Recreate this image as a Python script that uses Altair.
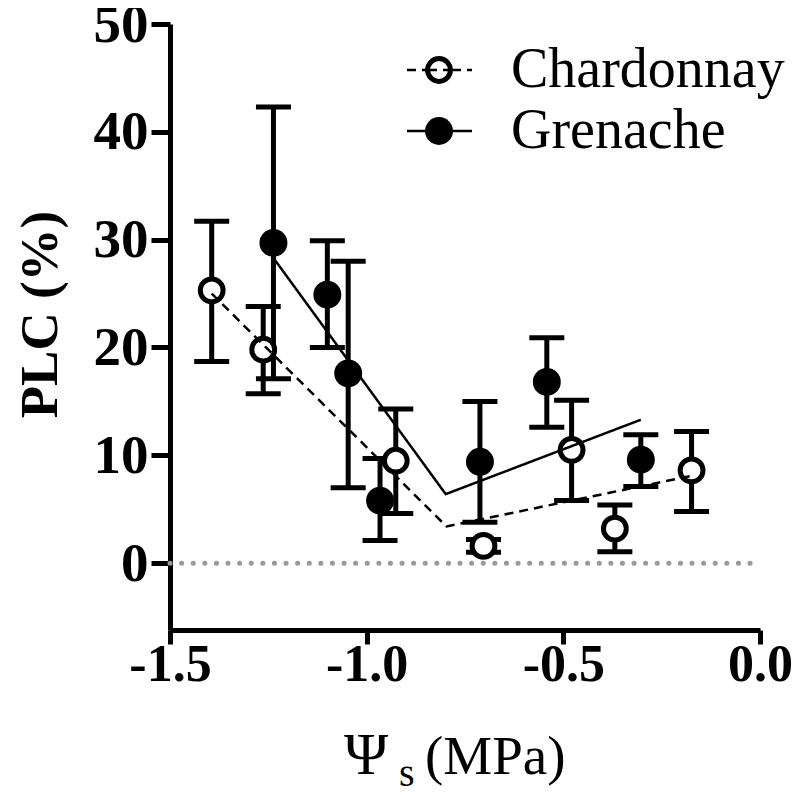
import altair as alt
import pandas as pd

# ---- data ----
char_x = [-1.394, -1.263, -0.926, -0.703, -0.479, -0.369, -0.174]
char_y = [25.3, 19.8, 9.5, 1.6, 10.5, 3.2, 8.6]
char_lo = [18.7, 15.7, 4.6, 1.0, 5.8, 1.05, 4.8]
char_hi = [31.7, 23.8, 14.3, 2.2, 15.1, 5.4, 12.2]

gren_x = [-1.237, -1.100, -1.047, -0.966, -0.712, -0.542, -0.303]
gren_y = [29.7, 24.9, 17.6, 5.8, 9.4, 16.8, 9.6]
gren_lo = [17.1, 20.0, 7.0, 2.1, 3.8, 12.6, 7.1]
gren_hi = [42.3, 29.9, 28.0, 9.7, 15.0, 20.9, 11.9]

char_fit_x = [-1.394, -0.797, -0.174]
char_fit_y = [25.0, 3.4, 8.1]
gren_fit_x = [-1.237, -0.799, -0.303]
gren_fit_y = [28.3, 6.4, 13.3]

x_ticks = [-1.5, -1.0, -0.5, 0.0]
y_ticks = [0, 10, 20, 30, 40, 50]

FONT = "Liberation Serif"

pts = pd.DataFrame({
    "series": ["Chardonnay"] * len(char_x) + ["Grenache"] * len(gren_x),
    "x": char_x + gren_x,
    "y": char_y + gren_y,
    "lo": char_lo + gren_lo,
    "hi": char_hi + gren_hi,
})
fits = pd.DataFrame({
    "series": ["Chardonnay"] * len(char_fit_x) + ["Grenache"] * len(gren_fit_x),
    "x": char_fit_x + gren_fit_x,
    "y": char_fit_y + gren_fit_y,
})
zero = pd.DataFrame({"x": [-1.5], "x2": [0.0], "y": [0.0]})

xs = alt.Scale(domain=[-1.5, 0.0], nice=False, zero=False)
ys = alt.Scale(domain=[-6.2, 50], nice=False, zero=False)

xax = alt.Axis(values=x_ticks, title=None, grid=False,
               labelExpr="datum.value < 0 ? '-' + format(-datum.value, '.1f') : format(datum.value, '.1f')",
               labelFont=FONT, labelFontWeight="bold", labelFontSize=52,
               labelColor="black", labelPadding=-5,
               domainColor="black", domainWidth=5, tickColor="black",
               tickWidth=5, tickSize=14, labelFlush=False)
yax = alt.Axis(values=y_ticks, format="d", title="PLC (%)", grid=False,
               labelFont=FONT, labelFontWeight="bold", labelFontSize=55,
               labelColor="black", labelPadding=3,
               titleFont=FONT, titleFontWeight="bold", titleFontSize=53,
               titleColor="black", titlePadding=26, titleY=290,
               domainColor="black", domainWidth=5, tickColor="black",
               tickWidth=5, tickSize=19, labelFlush=False)

base = alt.Chart(pts)

zero_line = alt.Chart(zero).mark_rule(
    color="#999999", strokeWidth=5, strokeDash=[0.1, 11.5], strokeCap="round"
).encode(
    x=alt.X("x:Q", scale=xs, axis=xax),
    x2="x2:Q",
    y=alt.Y("y:Q", scale=ys, axis=yax),
)

err = base.mark_rule(color="black", strokeWidth=5).encode(
    x=alt.X("x:Q", scale=xs), y=alt.Y("lo:Q", scale=ys), y2="hi:Q")
cap_lo = base.mark_tick(color="black", thickness=5, size=35, orient="horizontal",
                        opacity=1).encode(
    x=alt.X("x:Q", scale=xs), y=alt.Y("lo:Q", scale=ys))
cap_hi = base.mark_tick(color="black", thickness=5, size=35, orient="horizontal",
                        opacity=1).encode(
    x=alt.X("x:Q", scale=xs), y=alt.Y("hi:Q", scale=ys))

open_pts = base.transform_filter(alt.datum.series == "Chardonnay").mark_point(
    shape="circle", size=520, fill="white", fillOpacity=1, stroke="black",
    strokeWidth=5, opacity=1
).encode(x=alt.X("x:Q", scale=xs), y=alt.Y("y:Q", scale=ys))

filled_pts = base.transform_filter(alt.datum.series == "Grenache").mark_point(
    shape="circle", size=780, filled=True, color="black", opacity=1
).encode(x=alt.X("x:Q", scale=xs), y=alt.Y("y:Q", scale=ys))

fit_lines = alt.Chart(fits).mark_line(color="black", strokeWidth=2.5).encode(
    x=alt.X("x:Q", scale=xs),
    y=alt.Y("y:Q", scale=ys),
    detail="series:N",
    strokeDash=alt.StrokeDash(
        "series:N",
        scale=alt.Scale(domain=["Chardonnay", "Grenache"], range=[[9, 6], [1, 0]]),
        legend=None,
    ),
)

# ---- legend (layout, drawn in pixel positions) ----
one = pd.DataFrame({"a": [0]})
leg_y1, leg_y2 = 46, 107
leg_lines = alt.layer(
    alt.Chart(one).mark_rule(color="black", strokeWidth=2.5, strokeDash=[9, 6]).encode(
        x=alt.value(237), x2=alt.value(302), y=alt.value(leg_y1)),
    alt.Chart(one).mark_rule(color="black", strokeWidth=2.5).encode(
        x=alt.value(237), x2=alt.value(302), y=alt.value(leg_y2)),
    alt.Chart(one).mark_point(shape="circle", size=520, fill="white", fillOpacity=1,
                              stroke="black", strokeWidth=5, opacity=1).encode(
        x=alt.value(269), y=alt.value(leg_y1)),
    alt.Chart(one).mark_rule(color="black", strokeWidth=2.5, strokeDash=[9, 6]).encode(
        x=alt.value(258), x2=alt.value(281), y=alt.value(leg_y1)),
    alt.Chart(one).mark_point(shape="circle", size=780, filled=True, color="black",
                              opacity=1).encode(
        x=alt.value(269), y=alt.value(leg_y2)),
    alt.Chart(one).mark_text(text="Chardonnay", font=FONT, fontSize=56, align="left",
                             baseline="middle", color="black").encode(
        x=alt.value(341), y=alt.value(leg_y1)),
    alt.Chart(one).mark_text(text="Grenache", font=FONT, fontSize=56, align="left",
                             baseline="middle", color="black").encode(
        x=alt.value(341), y=alt.value(leg_y2)),
)

# ---- x axis title with subscript ----
xtitle = alt.layer(
    alt.Chart(one).mark_text(text="Ψ", font=FONT, fontSize=60, align="left",
                             baseline="alphabetic", color="black").encode(
        x=alt.value(174), y=alt.value(750)),
    alt.Chart(one).mark_text(text="s", font=FONT, fontSize=40, align="left",
                             baseline="alphabetic", color="black").encode(
        x=alt.value(229), y=alt.value(762)),
    alt.Chart(one).mark_text(text="(MPa)", font=FONT, fontSize=55, align="left",
                             baseline="alphabetic", color="black").encode(
        x=alt.value(255), y=alt.value(750)),
)

chart = alt.layer(
    zero_line, err, cap_lo, cap_hi, open_pts, filled_pts, fit_lines, leg_lines, xtitle
).properties(
    width=590, height=606,
    autosize=alt.AutoSizeParams(type="none"),
    padding={"left": 162, "top": 16, "right": 32, "bottom": 157},
    background="white",
).configure_view(stroke=None)

chart.save("out.html", embed_options={"renderer": "svg", "actions": False})
